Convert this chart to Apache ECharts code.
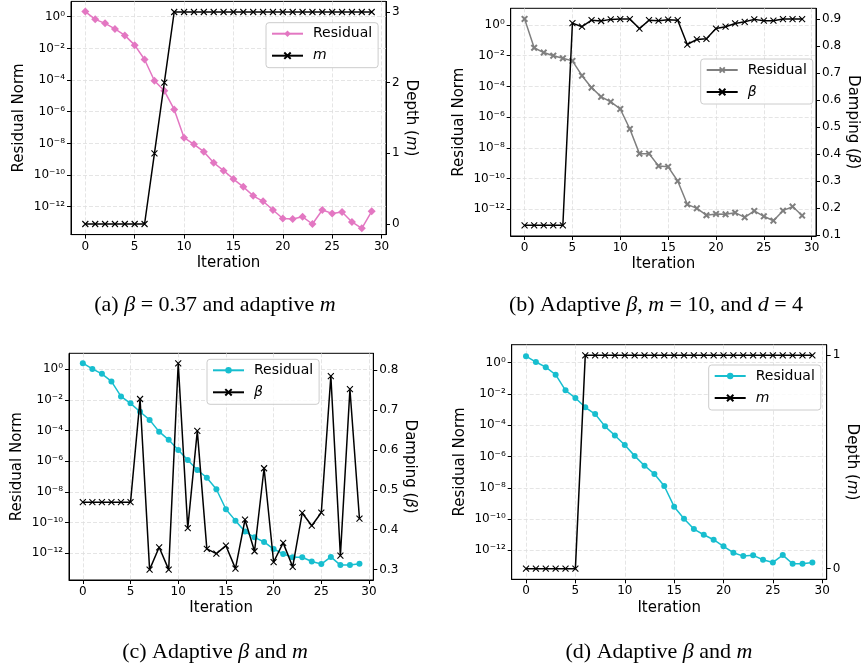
<!DOCTYPE html>
<html><head><meta charset="utf-8">
<script src="https://cdn.jsdelivr.net/npm/echarts@6/dist/echarts.min.js"></script>
<style>html,body{margin:0;padding:0;background:#fff}#c{width:863px;height:666px}</style>
</head><body><div id="c"></div>
<script>
const iterations = [0,1,2,3,4,5,6,7,8,9,10,11,12,13,14,15,16,17,18,19,20,21,22,23,24,25,26,27,28,29];

const residualA = [2.1,0.68,0.38,0.17,0.066,0.016,2.0e-3,9.1e-5,2.1e-5,1.4e-6,2.3e-8,8.7e-9,3.0e-9,6.0e-10,1.9e-10,5.6e-11,1.8e-11,4.9e-12,2.2e-12,6.2e-13,1.8e-13,1.7e-13,2.3e-13,8.1e-14,6.2e-13,3.8e-13,4.6e-13,1.1e-13,4.3e-14,5.1e-13];
const depthA = [0,0,0,0,0,0,0,1,2,3,3,3,3,3,3,3,3,3,3,3,3,3,3,3,3,3,3,3,3,3];

const residualB = [2.5,3.3e-2,1.6e-2,1.0e-2,6.8e-3,4.6e-3,5.0e-4,8.3e-5,2.1e-5,1.0e-5,3.4e-6,1.7e-7,4.2e-9,4.2e-9,6.6e-10,5.8e-10,6.9e-11,2.1e-12,1.15e-12,4.1e-13,5.0e-13,4.7e-13,6.0e-13,3.0e-13,7.8e-13,3.5e-13,1.8e-13,8.1e-13,1.5e-12,3.9e-13];
const betaB = [0.137,0.137,0.137,0.137,0.137,0.885,0.872,0.896,0.893,0.899,0.90,0.90,0.865,0.896,0.894,0.898,0.896,0.806,0.825,0.827,0.865,0.872,0.884,0.890,0.899,0.894,0.894,0.90,0.90,0.90];

const residualC = [2.5,1.05,0.50,0.16,1.7e-2,6.0e-3,1.7e-3,5.0e-4,8.5e-5,2.5e-5,5.5e-6,1.2e-6,2.7e-7,8.5e-8,1.5e-8,7.4e-10,1.35e-10,2.6e-11,1.1e-11,5.5e-12,1.9e-12,9.1e-13,5.5e-13,5.5e-13,2.9e-13,2.0e-13,5.8e-13,1.7e-13,1.7e-13,2.1e-13];
const betaC = [0.469,0.469,0.469,0.469,0.469,0.469,0.7275,0.30,0.356,0.30,0.817,0.404,0.6475,0.352,0.34,0.36,0.3025,0.425,0.346,0.554,0.319,0.367,0.307,0.442,0.41,0.443,0.785,0.335,0.752,0.4275];

const residualD = [2.6,1.1,0.52,0.17,1.7e-2,5.5e-3,1.4e-3,5.2e-4,8.5e-5,2.2e-5,5.4e-6,1.1e-6,2.6e-7,7.6e-8,1.3e-8,6.2e-10,1.05e-10,2.3e-11,1.0e-11,4.8e-12,1.8e-12,7.1e-13,4.3e-13,4.8e-13,2.5e-13,1.7e-13,5.0e-13,1.4e-13,1.4e-13,1.7e-13];
const depthD = [0,0,0,0,0,0,1,1,1,1,1,1,1,1,1,1,1,1,1,1,1,1,1,1,1,1,1,1,1,1];

const xTicks = [0,5,10,15,20,25,30];
const logTicks = [1e0,1e-2,1e-4,1e-6,1e-8,1e-10,1e-12];
const depthTicksA = [0,1,2,3];
const dampTicksB = [0.1,0.2,0.3,0.4,0.5,0.6,0.7,0.8,0.9];
const dampTicksC = [0.3,0.4,0.5,0.6,0.7,0.8];
const depthTicksD = [0,1];

const captionA = '(a) {i|β} = 0.37 and adaptive {i|m}';
const captionB = '(b) Adaptive {i|β}, {i|m} = 10, and {i|d} = 4';
const captionC = '(c) Adaptive {i|β} and {i|m}';
const captionD = '(d) Adaptive {i|β} and {i|m}';

const FONT = 'DejaVu Sans';
const SERIF = 'Liberation Serif';
const sup = {'0':'\u2070','1':'\u00b9','2':'\u00b2','3':'\u00b3','4':'\u2074','5':'\u2075','6':'\u2076','7':'\u2077','8':'\u2078','9':'\u2079','-':'\u207b'};
function logLabel(v){ const e = Math.round(Math.log10(v)); return '10' + String(e).split('').map(c=>sup[c]).join(''); }

const xSymbol = 'path://M0,0L10,10M10,0L0,10';
const fatX = 'path://M2,0L5,3L8,0L10,2L7,5L10,8L8,10L5,7L2,10L0,8L3,5L0,2Z';

const panels = [
  {grid:{left:71, top:1.4, width:315, height:233.2}, logExt:[-13.76,0.967], res:residualA, resColor:'#e377c2', resSymbol:'diamond', resSize:[8,8],
   sec:depthA, secSym:'m', secTitle:'Depth ({i|m})', secExt:[-0.15,3.15], secTicks:depthTicksA, secFmt:v=>String(Math.round(v)), secGap:15,
   legend:{left:266, top:22.7}, caption:captionA, cap:[215,305]},
  {grid:{left:510.7, top:8.3, width:305.3, height:227.7}, logExt:[-13.74,1.087], res:residualB, resColor:'#7f7f7f', resSymbol:fatX, resSize:[7,7],
   sec:betaB, secSym:'β', secTitle:'Damping ({i|β})', secExt:[0.0975,0.94], secTicks:dampTicksB, secFmt:v=>v.toFixed(1), secGap:27,
   legend:{left:700.7, top:59}, caption:captionB, cap:[656,305]},
  {grid:{left:69, top:353.3, width:304.3, height:226.7}, logExt:[-13.74,1.04], res:residualC, resColor:'#17becf', resSymbol:'circle', resSize:6,
   sec:betaC, secSym:'β', secTitle:'Damping ({i|β})', secExt:[0.274,0.842], secTicks:dampTicksC, secFmt:v=>v.toFixed(1), secGap:25,
   legend:{left:207, top:359.3}, caption:captionC, cap:[215,652]},
  {grid:{left:511.7, top:344.7, width:315, height:234.6}, logExt:[-13.85,1.15], res:residualD, resColor:'#17becf', resSymbol:'circle', resSize:6,
   sec:depthD, secSym:'m', secTitle:'Depth ({i|m})', secExt:[-0.05,1.05], secTicks:depthTicksD, secFmt:v=>String(Math.round(v)), secGap:16,
   legend:{left:708.7, top:365}, caption:captionD, cap:[659,652]}
];

const grids=[], xAxes=[], yAxes=[], series=[], legends=[], graphics=[];
const tickStyle = {show:true, length:4, lineStyle:{color:'#000', width:1}};
const splitStyle = {show:true, lineStyle:{color:'#dedede', width:0.8, type:[4,2]}};
const labelBase = {color:'#000', fontFamily:FONT, fontSize:12};
const nameStyle = {color:'#000', fontFamily:FONT, fontSize:15, rich:{i:{fontStyle:'italic', fontFamily:FONT, fontSize:15, color:'#000'}}};

panels.forEach((p,k)=>{
  const tag = 'abcd'[k];
  grids.push(Object.assign({show:true, borderColor:'#000', borderWidth:1, backgroundColor:'transparent', containLabel:false}, p.grid));
  xAxes.push({type:'value', gridIndex:k, min:-1.45, max:30.45, name:'Iteration', nameLocation:'middle', nameGap:21,
    nameTextStyle:nameStyle, axisLine:{show:true, onZero:false, lineStyle:{color:'#000', width:1}},
    axisTick:Object.assign({customValues:xTicks}, tickStyle),
    axisLabel:Object.assign({customValues:xTicks, margin:6}, labelBase),
    splitLine:splitStyle});
  yAxes.push({type:'log', logBase:10, gridIndex:k, position:'left', min:Math.pow(10,p.logExt[0]), max:Math.pow(10,p.logExt[1]),
    name:'Residual Norm', nameLocation:'middle', nameGap:44, nameTextStyle:nameStyle,
    axisLine:{show:true, onZero:false, lineStyle:{color:'#000', width:1}},
    axisTick:Object.assign({customValues:logTicks}, tickStyle),
    axisLabel:Object.assign({customValues:logTicks, margin:6, formatter:logLabel}, labelBase),
    splitLine:splitStyle});
  yAxes.push({type:'value', gridIndex:k, position:'right', min:p.secExt[0], max:p.secExt[1],
    name:p.secTitle, nameLocation:'middle', nameGap:p.secGap, nameRotate:-90, nameTextStyle:nameStyle,
    axisLine:{show:true, onZero:false, lineStyle:{color:'#000', width:1}},
    axisTick:Object.assign({customValues:p.secTicks}, tickStyle),
    axisLabel:Object.assign({customValues:p.secTicks, margin:6, formatter:p.secFmt}, labelBase),
    splitLine:{show:false}});
  const resName = 'Residual ' + tag, secName = p.secSym + ' ' + tag;
  series.push({type:'line', name:resName, xAxisIndex:k, yAxisIndex:2*k, data:iterations.map((x,i)=>[x,p.res[i]]),
    symbol:p.resSymbol, symbolSize:p.resSize, showAllSymbol:true, lineStyle:{color:p.resColor, width:1.5},
    itemStyle:{color:p.resColor, borderWidth:0}, z:2, animation:false, emphasis:{disabled:true}});
  series.push({type:'line', name:secName, xAxisIndex:k, yAxisIndex:2*k+1, data:iterations.map((x,i)=>[x,p.sec[i]]),
    symbol:xSymbol, symbolSize:6, showAllSymbol:true, lineStyle:{color:'#000', width:1.5},
    itemStyle:{color:'#000', borderColor:'#000', borderWidth:1.1}, z:3, animation:false, emphasis:{disabled:true}});
  legends.push({show:true, orient:'vertical', left:p.legend.left, top:p.legend.top, data:[resName, secName], selectedMode:false,
    itemWidth:31, itemHeight:8, itemGap:8, padding:[4,6,5,5], borderColor:'#cccccc', borderWidth:1, borderRadius:3,
    backgroundColor:'rgba(255,255,255,0.8)',
    textStyle:{color:'#000', fontFamily:FONT, fontSize:14, rich:{t:{fontFamily:FONT, fontSize:14, padding:[0,0,0,5]}, ti:{fontFamily:FONT, fontSize:14, fontStyle:'italic', padding:[0,0,0,5]}}},
    formatter: n => n.indexOf('Residual')===0 ? '{t|Residual}' : '{ti|' + n.split(' ')[0] + '}'});
  graphics.push({type:'text', x:p.cap[0], y:p.cap[1], silent:true,
    style:{text:p.caption, align:'center', verticalAlign:'middle', fill:'#000', fontFamily:SERIF, fontSize:22,
      rich:{i:{fontFamily:SERIF, fontSize:22, fontStyle:'italic', fill:'#000'}}}});
});

const chart = echarts.init(document.getElementById('c'), null, {renderer:'canvas'});
chart.setOption({animation:false, backgroundColor:'#fff', grid:grids, xAxis:xAxes, yAxis:yAxes, series:series, legend:legends, graphic:graphics, tooltip:{show:false}});
</script></body></html>
